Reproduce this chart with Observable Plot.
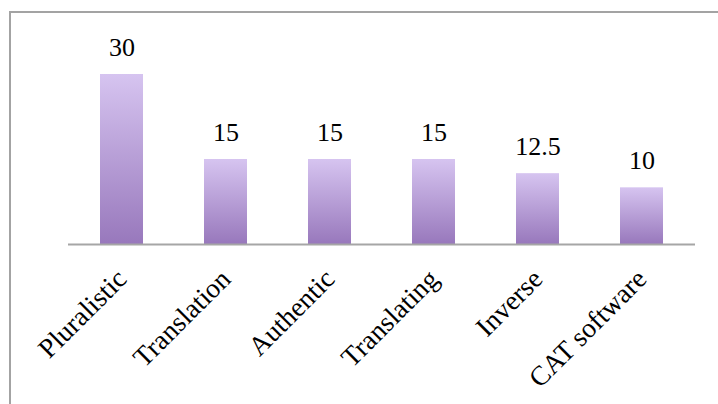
<!DOCTYPE html>
<html>
<head>
<meta charset="utf-8">
<script src="https://cdn.jsdelivr.net/npm/d3@7"></script>
<script src="https://cdn.jsdelivr.net/npm/@observablehq/plot@0.6"></script>
<style>
  html, body { margin: 0; padding: 0; background: #fff; }
  #wrap { position: relative; width: 718px; height: 404px; overflow: hidden; }
  #frame { position: absolute; left: 9px; top: 11px; width: 760px; height: 450px; border: 2px solid #a3a3a3; box-sizing: border-box; }
  #chart { position: absolute; left: 0; top: 0; }
</style>
</head>
<body>
<div id="wrap">
  <div id="frame"></div>
  <div id="chart"></div>
</div>
<script>
const categories = ["Pluralistic", "Translation", "Authentic", "Translating", "Inverse", "CAT software"];
const values = [30, 15, 15, 15, 12.5, 10];
const valueLabels = ["30", "15", "15", "15", "12.5", "10"];

const data = categories.map((c, i) => ({category: c, value: values[i], label: valueLabels[i]}));

const font = "'Liberation Serif', 'Times New Roman', serif";

const chart = Plot.plot({
  width: 718,
  height: 404,
  marginLeft: 68,
  marginRight: 23,
  marginTop: 40,
  marginBottom: 160,
  style: {fontFamily: font, fontSize: "26px", color: "#000", background: "transparent"},
  x: {domain: categories, paddingInner: 0.59, paddingOuter: 0.295, label: null},
  y: {domain: [0, 36], axis: null},
  marks: [
    Plot.barY(data, {x: "category", y: "value", fill: "url(#barGrad)"}),
    Plot.ruleY([0], {stroke: "#a6a6a6", strokeWidth: 2}),
    Plot.text(data, {x: "category", y: "value", text: "label", lineAnchor: "bottom", dy: -19, fontSize: 26, fill: "#000"}),
    Plot.axisX({tickSize: 0, tickRotate: -45, tickPadding: 30, fontSize: 27.5, label: null, fill: "#000"})
  ]
});

const svgNS = "http://www.w3.org/2000/svg";
const defs = document.createElementNS(svgNS, "defs");
const grad = document.createElementNS(svgNS, "linearGradient");
grad.setAttribute("id", "barGrad");
grad.setAttribute("x1", "0"); grad.setAttribute("y1", "0");
grad.setAttribute("x2", "0"); grad.setAttribute("y2", "1");
[["0%", "#d6c4f0"], ["100%", "#9878bc"]].forEach(([o, c]) => {
  const s = document.createElementNS(svgNS, "stop");
  s.setAttribute("offset", o);
  s.setAttribute("stop-color", c);
  grad.appendChild(s);
});
defs.appendChild(grad);
chart.insertBefore(defs, chart.firstChild);

document.getElementById("chart").appendChild(chart);
</script>
</body>
</html>
